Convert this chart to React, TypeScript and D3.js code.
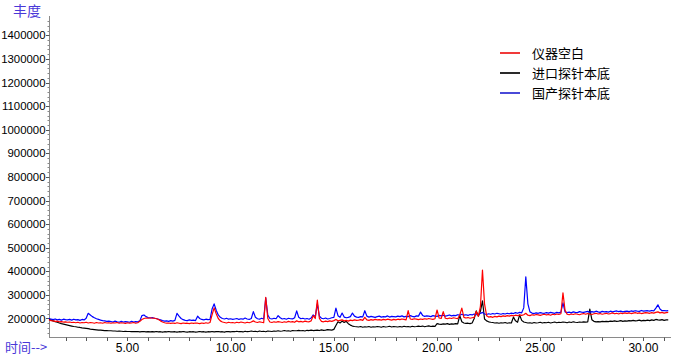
import * as d3 from "d3";

// sampling of the three traces: minutes, every 0.1 min from 1.2 to 31.2
const T0 = 1.2;
const DT = 0.1;

// abundance in thousands, one row = one minute (10 samples)
const blankK = [
  194,191,190,188,189,186,187,185,186,184,
  185,183,184,182,184,181,183,182,184,181,
  183,182,180,183,181,182,180,183,181,182,
  180,182,181,183,180,182,181,179,182,180,
  181,183,180,182,188,196,200,202,201,203,
  201,202,199,196,190,185,182,180,181,179,
  181,179,182,180,178,181,179,180,178,181,
  179,181,180,178,181,179,182,180,183,215,
  245,220,200,190,185,183,181,184,182,183,
  181,184,182,185,183,181,184,182,185,190,
  185,183,186,184,182,290,200,185,183,186,
  184,187,185,183,186,184,188,185,187,184,
  190,186,188,185,189,187,186,190,212,200,
  278,200,188,186,189,187,190,188,191,196,
  190,192,194,190,192,189,193,191,194,192,
  193,195,192,205,194,192,195,193,196,194,
  195,193,196,194,197,195,193,196,194,197,
  195,198,196,194,233,198,196,199,197,195,
  198,196,199,197,200,198,196,199,236,202,
  200,229,201,199,202,200,203,201,199,215,
  244,205,202,204,201,203,205,230,210,250,
  405,262,212,206,208,205,209,207,210,208,
  211,209,212,210,213,211,214,212,215,213,
  216,222,214,212,216,214,217,215,213,216,
  218,215,217,214,218,216,219,217,220,309,
  235,218,216,219,217,220,218,216,219,221,
  218,221,219,217,220,222,219,221,218,220,
  222,219,221,224,220,222,219,223,221,224,
  222,224,221,223,225,222,224,221,223,225,
  224,222,225,223,226,228,224,226,223,225,
  226,
];

const importedK = [
  197,193,190,187,184,181,178,176,174,172,
  170,168,166,165,163,162,160,159,158,157,
  155,154,153,152,151,151,150,149,149,148,
  148,147,147,146,147,146,145,146,145,145,
  144,145,144,145,143,144,145,143,144,143,
  144,143,145,143,144,142,144,143,145,143,
  143,144,142,144,143,145,143,142,144,143,
  144,142,143,145,143,144,142,144,143,145,
  143,144,145,143,144,142,145,144,143,145,
  144,146,144,145,143,146,144,145,147,145,
  146,144,147,145,146,144,147,146,145,147,
  146,148,146,147,149,147,148,146,149,148,
  148,150,148,149,147,150,149,151,149,150,
  151,149,152,150,151,153,152,151,154,170,
  186,181,189,183,188,178,172,168,166,165,
  164,166,163,165,164,166,163,165,164,166,
  165,163,166,164,165,167,164,166,165,164,
  166,164,167,165,166,164,167,165,166,168,
  166,168,165,167,169,166,168,167,178,176,
  175,177,176,178,175,177,176,178,177,212,
  186,181,179,180,178,181,200,232,210,230,
  275,198,190,186,184,183,181,182,180,182,
  181,183,180,182,181,206,190,184,215,192,
  185,183,181,182,180,183,181,182,184,181,
  183,182,184,181,183,185,182,184,183,185,
  184,182,185,183,186,184,183,185,184,186,
  185,186,240,195,188,186,187,186,188,187,
  188,187,189,188,190,188,189,191,188,190,
  189,191,190,192,190,191,193,190,192,191,
  193,191,194,192,196,194,193,195,192,194,
  194,
];

const domesticK = [
  201,197,195,198,194,196,193,197,195,194,
  196,193,197,194,195,192,196,194,201,222,
  215,208,203,199,196,193,191,190,188,189,
  187,185,189,186,184,188,185,187,186,184,
  188,185,187,186,190,212,215,208,204,202,
  204,201,200,197,194,191,189,190,188,191,
  189,192,222,210,200,195,192,191,194,192,
  193,191,210,200,196,194,197,195,196,240,
  262,235,215,205,200,198,201,197,199,196,
  198,200,196,199,197,202,198,196,200,229,
  205,199,197,201,198,287,215,200,198,201,
  199,212,203,198,200,197,201,199,198,203,
  232,205,199,201,198,200,197,202,215,208,
  262,210,201,199,202,198,200,203,205,244,
  212,205,223,206,203,205,208,223,210,206,
  205,208,207,233,210,206,209,207,205,208,
  210,206,208,207,211,206,209,208,207,210,
  208,211,207,209,208,212,209,207,211,210,
  227,213,209,211,210,208,212,210,209,213,
  211,214,210,212,215,211,213,212,216,214,
  218,214,216,213,217,215,219,216,218,221,
  226,219,217,220,218,221,219,222,220,218,
  221,219,222,220,223,221,225,222,226,224,
  245,377,262,228,223,221,224,222,225,223,
  222,225,223,226,224,222,226,224,227,266,
  228,225,227,224,228,226,225,229,227,226,
  228,230,226,229,227,231,228,226,230,228,
  229,227,231,228,230,232,229,231,228,230,
  231,229,232,230,233,231,230,234,231,232,
  233,231,234,232,244,258,240,233,234,232,
  233,
];

const seriesNames = ["仪器空白", "进口探针本底", "国产探针本底"];
const seriesColors = ["#ff0000", "#000000", "#0000ff"];
const legendColors = ["#f03a3a", "#2a2a2a", "#4a4ad8"];

const yTicks = [200000, 300000, 400000, 500000, 600000, 700000, 800000, 900000,
  1000000, 1100000, 1200000, 1300000, 1400000];
const xLabelTicks = [5, 10, 15, 20, 25, 30];

const W = 675;
const H = 355;
const NUM_FONT = "'Liberation Sans', Arial, sans-serif";
const CJK_FONT = "'Noto Sans CJK SC', 'Noto Sans', sans-serif";

export default function App() {
  const x = d3.scaleLinear().domain([1.2, 31.3]).range([49, 670.3]);
  const y = d3.scaleLinear().domain([121600, 1481800]).range([337, 16]);

  const toPoints = (vals: number[]) => vals.map((v, i) => [T0 + i * DT, v * 1000] as [number, number]);
  const line = d3.line<[number, number]>().x((d) => x(d[0])).y((d) => y(d[1]));

  // draw black first, then blue, red on top
  const drawOrder = [
    { data: importedK, color: seriesColors[1] },
    { data: domesticK, color: seriesColors[2] },
    { data: blankK, color: seriesColors[0] },
  ];

  const minorY = d3.range(140000, 1480000, 20000);
  const minuteTicks = d3.range(2, 32, 1);
  const axisColor = "#8a8a8a";

  return (
    <svg width={W} height={H} style={{ position: "fixed", left: 0, top: 0, background: "#fff" }}>
      <text x={13} y={16} fontSize={14} fill="#4a38d8" fontFamily={CJK_FONT}>丰度</text>

      {/* y axis */}
      <line x1={49.5} x2={49.5} y1={16} y2={337} stroke={axisColor} strokeWidth={1} />
      {minorY.map((v) => (
        <line key={v} x1={47.5} x2={49.5} y1={Math.round(y(v)) + 0.5} y2={Math.round(y(v)) + 0.5} stroke={axisColor} />
      ))}
      {yTicks.map((v) => (
        <g key={v}>
          <line x1={46} x2={49.5} y1={Math.round(y(v)) + 0.5} y2={Math.round(y(v)) + 0.5} stroke="#555" />
          <text x={45.5} y={y(v)} dy="0.36em" textAnchor="end" fontSize={11.4} fontFamily={NUM_FONT} fill="#000">
            {v}
          </text>
        </g>
      ))}

      {/* x axis */}
      <line x1={49} x2={671} y1={337.5} y2={337.5} stroke={axisColor} strokeWidth={1} />
      {minuteTicks.map((t) => (
        <line key={t} x1={Math.round(x(t)) + 0.5} x2={Math.round(x(t)) + 0.5} y1={337.5} y2={341} stroke="#555" />
      ))}
      {xLabelTicks.map((t) => (
        <text key={t} x={x(t)} y={352} textAnchor="middle" fontSize={12} fontFamily={NUM_FONT} fill="#000">
          {t.toFixed(2)}
        </text>
      ))}
      <text x={5} y={352} fontSize={13} fill="#4a38d8" fontFamily={CJK_FONT}>时间--&gt;</text>

      {/* traces */}
      {drawOrder.map((s, i) => (
        <path key={i} d={line(toPoints(s.data)) ?? ""} fill="none" stroke={s.color} strokeWidth={1.2} strokeLinejoin="round" />
      ))}

      {/* legend */}
      {seriesNames.map((name, i) => (
        <g key={name} transform={`translate(500,${53 + i * 20})`}>
          <line x1={0} x2={20} y1={0} y2={0} stroke={legendColors[i]} strokeWidth={2} />
          <text x={32} y={0} dy="0.36em" fontSize={13} fontFamily={CJK_FONT} fill="#000">{name}</text>
        </g>
      ))}
    </svg>
  );
}
